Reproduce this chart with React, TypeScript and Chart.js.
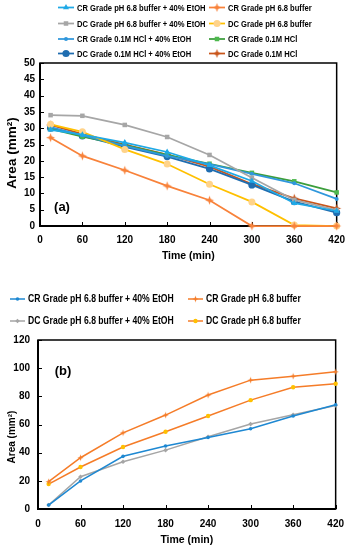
import React, { useEffect, useRef } from 'react';
import { Chart, registerables } from 'chart.js';
import { drawPoint } from 'chart.js/helpers';

Chart.register(...registerables);

// ---------- data ----------
const timeMin = [15, 60, 120, 180, 240, 300, 360, 420];

const seriesLabelsA = [
  'CR Grade pH 6.8 buffer + 40% EtOH',
  'CR Grade pH 6.8 buffer',
  'DC Grade pH 6.8 buffer + 40% EtOH',
  'DC Grade pH 6.8 buffer',
  'CR Grade 0.1M HCl + 40% EtOH',
  'CR Grade 0.1M HCl',
  'DC Grade 0.1M HCl + 40% EtOH',
  'DC Grade 0.1M HCl',
];
const crBufEtOH_A = [29.5, 28.0, 25.6, 22.7, 18.6, 13.8, 7.0, 4.6];
const crBuf_A = [27.1, 21.5, 17.1, 12.3, 7.9, 0, 0, 0];
const dcBufEtOH_A = [34.0, 33.8, 31.0, 27.3, 21.8, 14.8, 8.0, 4.9];
const dcBuf_A = [31.2, 28.9, 23.5, 19.0, 12.8, 7.4, 0.3, 0];
const crHclEtOH_A = [30.3, 27.8, 24.6, 21.5, 19.0, 16.0, 13.1, 8.3];
const crHcl_A = [29.8, 27.4, 24.8, 21.8, 19.1, 16.3, 13.7, 10.3];
const dcHclEtOH_A = [30.0, 27.6, 24.3, 21.3, 17.5, 12.6, 7.5, 4.1];
const dcHcl_A = [31.0, 28.2, 25.0, 21.9, 18.2, 12.9, 8.5, 5.4];

const seriesLabelsB = [
  'CR Grade pH 6.8 buffer + 40% EtOH',
  'CR Grade pH 6.8 buffer',
  'DC Grade pH 6.8 buffer + 40% EtOH',
  'DC Grade pH 6.8 buffer',
];
const crBufEtOH_B = [2.8, 19.9, 37.4, 44.7, 50.8, 57.0, 66.0, 74.0];
const crBuf_B = [19.4, 36.4, 54.1, 66.7, 80.9, 91.5, 94.3, 97.4];
const dcBufEtOH_B = [2.8, 22.9, 33.6, 41.8, 51.3, 60.3, 66.9, 73.5];
const dcBuf_B = [17.7, 29.8, 44.0, 54.8, 66.0, 77.3, 86.5, 88.9];

const xMin = 0, xMax = 420, xStep = 60;
const yMaxA = 50, yStepA = 5;
const yMaxB = 120, yStepB = 20;

const xTitle = 'Time (min)';
const yTitle = 'Area (mm²)';

// ---------- helpers ----------
const FONT = '"Liberation Sans", Arial, sans-serif';

function starImg(r: number, color: string) {
  const s = Math.ceil(r * 2 + 2);
  const c = document.createElement('canvas');
  c.width = s; c.height = s;
  const ctx = c.getContext('2d')!;
  const cx = s / 2;
  ctx.beginPath();
  for (let i = 0; i < 8; i++) {
    const ang = (i * Math.PI) / 4 - Math.PI / 2;
    const rr = i % 2 === 0 ? r : r * 0.38;
    ctx.lineTo(cx + rr * Math.cos(ang), cx + rr * Math.sin(ang));
  }
  ctx.closePath();
  ctx.fillStyle = color;
  ctx.fill();
  return c;
}

function series(label: string, data: number[], color: string, pointColor: string, style: any, radius: number, width: number) {
  return {
    label,
    data: timeMin.map((t, i) => ({ x: t, y: data[i] })),
    borderColor: color,
    backgroundColor: pointColor,
    pointBackgroundColor: pointColor,
    pointBorderColor: pointColor,
    pointStyle: style,
    pointRadius: radius,
    pointBorderWidth: 0,
    borderWidth: width,
    clip: false as any,
    tension: 0,
  };
}

const decorPlugin = {
  id: 'decor',
  beforeDatasetsDraw(chart: any, _a: any, opts: any) {
    const { ctx, chartArea: ca } = chart;
    ctx.save();
    ctx.strokeStyle = '#000';
    ctx.lineWidth = opts.frameWidth;
    ctx.strokeRect(ca.left, ca.top, ca.right - ca.left, ca.bottom - ca.top);
    ctx.lineWidth = 2;
    ctx.beginPath();
    ctx.moveTo(ca.left, ca.top);
    ctx.lineTo(ca.left, ca.bottom);
    ctx.lineTo(ca.right, ca.bottom);
    ctx.stroke();
    ctx.lineWidth = 1;
    const xs = chart.scales.x, ys = chart.scales.y;
    ctx.beginPath();
    xs.ticks.forEach((t: any) => {
      const px = Math.round(xs.getPixelForValue(t.value)) + 0.5;
      ctx.moveTo(px, ca.bottom);
      ctx.lineTo(px, ca.bottom - 4);
    });
    ys.ticks.forEach((t: any) => {
      const py = Math.round(ys.getPixelForValue(t.value)) + 0.5;
      ctx.moveTo(ca.left, py);
      ctx.lineTo(ca.left + 4, py);
    });
    ctx.stroke();
    ctx.restore();
  },
  afterDraw(chart: any, _a: any, opts: any) {
    const { ctx, chartArea: ca } = chart;
    ctx.save();
    const lg = opts.legend;
    ctx.font = lg.font;
    ctx.textBaseline = 'middle';
    ctx.textAlign = 'left';
    chart.data.datasets.forEach((ds: any, i: number) => {
      const x = lg.cols[i % 2];
      const y = lg.rows[Math.floor(i / 2)];
      ctx.strokeStyle = ds.borderColor;
      ctx.lineWidth = ds.borderWidth;
      ctx.beginPath();
      ctx.moveTo(x, y);
      ctx.lineTo(x + lg.lineLen, y);
      ctx.stroke();
      ctx.fillStyle = ds.pointBackgroundColor;
      ctx.strokeStyle = ds.pointBorderColor;
      drawPoint(ctx, { pointStyle: ds.pointStyle, rotation: 0, radius: ds.pointRadius, borderWidth: 0 }, x + lg.lineLen / 2, y);
      ctx.fillStyle = '#000';
      ctx.save();
      ctx.translate(x + lg.lineLen + lg.gap, y + 0.5);
      ctx.scale(lg.hScale, 1);
      ctx.fillText(ds.label, 0, 0);
      ctx.restore();
    });
    const pl = opts.panel;
    ctx.font = pl.font;
    ctx.fillStyle = '#000';
    ctx.textAlign = 'center';
    ctx.textBaseline = 'middle';
    const py = pl.fromTop ? ca.top + pl.dy : ca.bottom + pl.dy;
    ctx.fillText(pl.text, ca.left + pl.dx, py);
    const yt = opts.yTitle;
    ctx.font = yt.font;
    ctx.translate(yt.x, (ca.top + ca.bottom) / 2 + yt.dy);
    ctx.rotate(-Math.PI / 2);
    ctx.fillText(yTitle, 0, 0);
    ctx.restore();
  },
};

function makeOptions(cfg: any) {
  return {
    responsive: false,
    animation: false as const,
    layout: { padding: { top: cfg.top, right: cfg.right, left: 0, bottom: 0 } },
    plugins: {
      legend: { display: false },
      tooltip: { enabled: false },
      decor: cfg.decor,
    },
    scales: {
      x: {
        type: 'linear' as const,
        min: xMin, max: xMax,
        ticks: { stepSize: xStep, color: '#000', font: { family: FONT, weight: 'bold' as const, size: 10 }, padding: cfg.xPad },
        grid: { display: false, drawTicks: false },
        border: { display: false },
        title: { display: true, text: xTitle, color: '#000', font: { family: FONT, weight: 'bold' as const, size: 10.5 }, padding: { top: 0, bottom: cfg.xTitlePad } },
        afterFit: (s: any) => { s.height = cfg.xH; },
      },
      y: {
        type: 'linear' as const,
        min: 0, max: cfg.yMax,
        ticks: { stepSize: cfg.yStep, color: '#000', font: { family: FONT, weight: 'bold' as const, size: 10 }, padding: cfg.yPad },
        grid: { display: false, drawTicks: false },
        border: { display: false },
        afterFit: (s: any) => { s.width = cfg.yW; },
      },
    },
  };
}

export default function App() {
  const refA = useRef<HTMLCanvasElement>(null);
  const refB = useRef<HTMLCanvasElement>(null);

  useEffect(() => {
    const lwA = 1.75;
    const dsA = [
      series(seriesLabelsA[0], crBufEtOH_A, '#1FA9E6', '#1FA9E6', 'triangle', 3.5, lwA),
      series(seriesLabelsA[1], crBuf_A, '#F8823A', '#F8823A', starImg(4.5, '#F8823A'), 4.5, lwA),
      series(seriesLabelsA[2], dcBufEtOH_A, '#A6A6A6', '#A6A6A6', 'rect', 3.2, lwA),
      series(seriesLabelsA[3], dcBuf_A, '#FFC000', '#FFD38A', 'circle', 3.5, lwA),
      series(seriesLabelsA[4], crHclEtOH_A, '#2F97DC', '#2F97DC', 'circle', 2, lwA),
      series(seriesLabelsA[5], crHcl_A, '#3C9E3C', '#4DB84D', 'rect', 3.2, lwA),
      series(seriesLabelsA[6], dcHclEtOH_A, '#1F6DB0', '#1F6DB0', 'circle', 3.6, lwA),
      series(seriesLabelsA[7], dcHcl_A, '#C9561B', '#C9561B', starImg(4.5, '#C9561B'), 4.5, lwA),
    ];
    const chartA = new Chart(refA.current!, {
      type: 'line',
      data: { datasets: dsA as any },
      options: makeOptions({
        top: 63, right: 10, xH: 44, yW: 40, xPad: 8, yPad: 5, xTitlePad: 8,
        yMax: yMaxA, yStep: yStepA,
        decor: {
          frameWidth: 1.5,
          legend: { cols: [58, 209], rows: [7.5, 23.5, 39, 53.5], lineLen: 16, gap: 3, hScale: 0.8, font: `bold 9.5px ${FONT}` },
          panel: { text: '(a)', dx: 22, dy: -19, fromTop: false, font: `bold 13px ${FONT}` },
          yTitle: { x: 12, dy: 8.5, font: `bold 13.5px ${FONT}` },
        },
      }) as any,
      plugins: [decorPlugin],
    });

    const lwB = 1.5;
    const dsB = [
      series(seriesLabelsB[0], crBufEtOH_B, '#1E88D2', '#1E88D2', 'circle', 1.8, lwB),
      series(seriesLabelsB[1], crBuf_B, '#F57C28', '#F57C28', starImg(3.2, '#F57C28'), 3.2, lwB),
      series(seriesLabelsB[2], dcBufEtOH_B, '#A5A5A5', '#A5A5A5', 'rectRot', 2.3, lwB),
      series(seriesLabelsB[3], dcBuf_B, '#F57C28', '#FFC000', 'circle', 2.2, lwB),
    ];
    const chartB = new Chart(refB.current!, {
      type: 'line',
      data: { datasets: dsB as any },
      options: makeOptions({
        top: 70, right: 13, xH: 41, yW: 38, xPad: 9, yPad: 8, xTitlePad: 4,
        yMax: yMaxB, yStep: yStepB,
        decor: {
          frameWidth: 1.5,
          legend: { cols: [10, 188], rows: [29, 51], lineLen: 15, gap: 3, hScale: 0.82, font: `bold 10.5px ${FONT}` },
          panel: { text: '(b)', dx: 25, dy: 31, fromTop: true, font: `bold 13px ${FONT}` },
          yTitle: { x: 12, dy: 12.5, font: `bold 10px ${FONT}` },
        },
      }) as any,
      plugins: [decorPlugin],
    });

    return () => { chartA.destroy(); chartB.destroy(); };
  }, []);

  return (
    <div style={{ position: 'absolute', left: 0, top: 0, width: 353, height: 550, background: '#fff' }}>
      <canvas ref={refA} width={353} height={270} style={{ display: 'block', width: 353, height: 270 }} />
      <canvas ref={refB} width={353} height={280} style={{ display: 'block', width: 353, height: 280 }} />
    </div>
  );
}
